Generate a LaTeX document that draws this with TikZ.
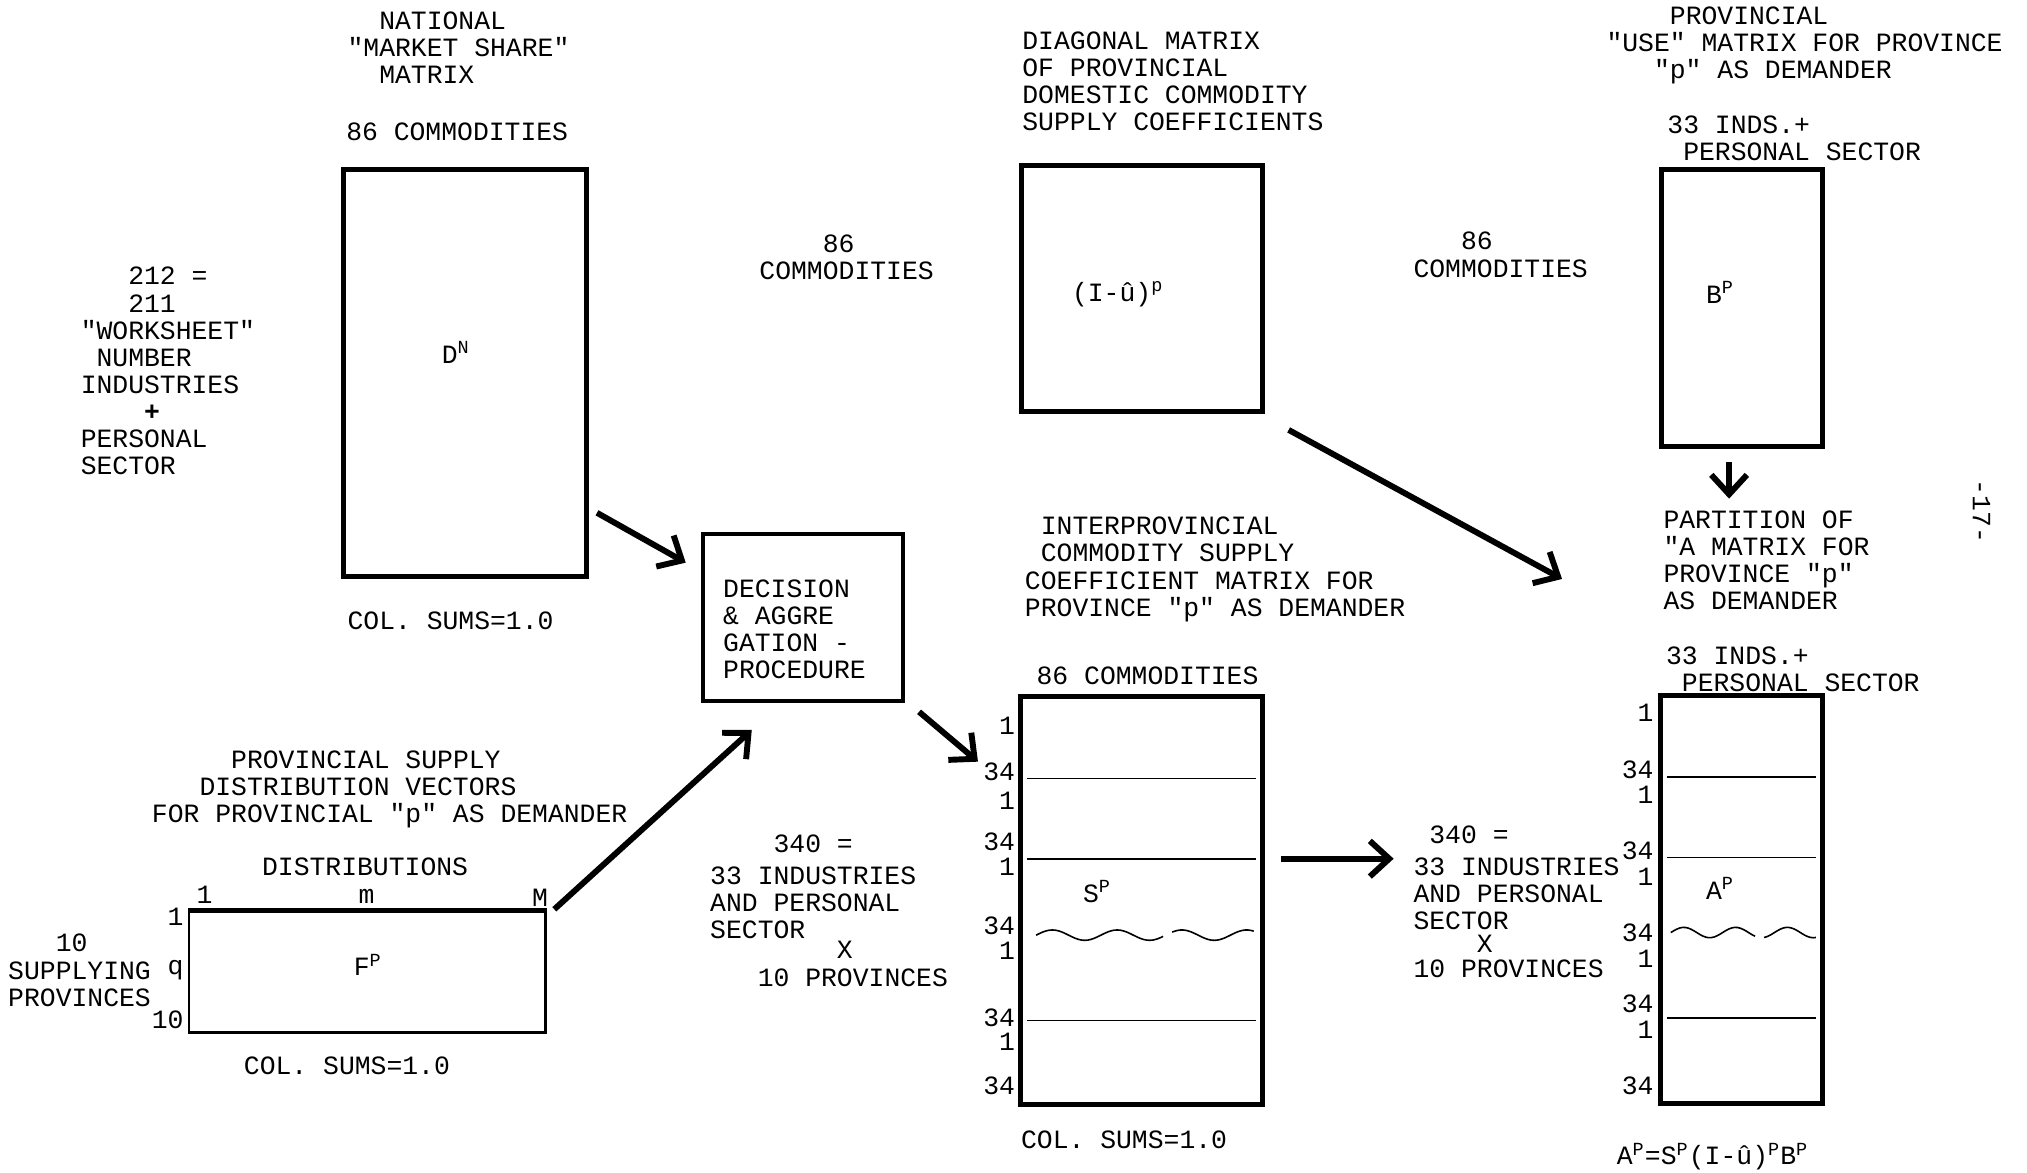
\documentclass[tikz,border=0pt]{standalone}
\usepackage{fontspec}
\setmonofont{Liberation Mono}
\usetikzlibrary{arrows.meta}

\begin{document}
\begin{tikzpicture}[x=0.2mm, y=-0.2mm,
    every node/.style={inner sep=0pt, font=\ttfamily\fontsize{11.6}{11.9}\selectfont},
    txt/.style={anchor=north west, align=left},
    word/.style={anchor=west},
    rowlab/.style={anchor=east},
    matbox/.style={draw, line width=2.2pt},
    divline/.style={line width=0.7pt},
    bigarrow/.style={line width=2.6pt, -{Straight Barb[length=3mm,width=5.5mm]}}]
  \useasboundingbox (0,0) rectangle (1565,905);

  % national market share matrix
  \node[txt] (natl) at (268,9) {\hphantom{00}NATIONAL\\"MARKET SHARE"\\\hphantom{00}MATRIX};
  \node[word] (dncols) at (267,102) {86 COMMODITIES};
  \node[matbox, minimum width=37.6mm, minimum height=62.8mm] (dn) at (359,288) {};
  \node (dnlab) at (352,272) {D\textsuperscript{N}};
  \node[word] (dnsum) at (268,479) {COL. SUMS=1.0};
  \node[txt] (dnrows) at (62,206) {\hphantom{000}212 =\\\hphantom{000}211\\"WORKSHEET"\\\hphantom{0}NUMBER\\INDUSTRIES\\\hphantom{0000}\textbf{+}\\PERSONAL\\SECTOR};

  % decision box
  \node[matbox, line width=1.8pt, minimum width=30.8mm, minimum height=25.8mm] (dec) at (620,476.5) {};
  \node[txt] (dectxt) at (558,447) {DECISION\\\& AGGRE\\GATION -\\PROCEDURE};

  % diagonal matrix
  \node[txt] (diagtxt) at (789,24) {DIAGONAL MATRIX\\OF PROVINCIAL\\DOMESTIC COMMODITY\\SUPPLY COEFFICIENTS};
  \node[matbox, minimum width=37.2mm, minimum height=38mm] (iu) at (882,223) {};
  \node (iulab) at (863,227) {(I-û)\textsuperscript{p}};
  \node[txt] (midcols) at (586,181) {\hphantom{0000}86\\COMMODITIES};
  \node[txt] (rcols) at (1091,179) {\hphantom{000}86\\COMMODITIES};

  % use matrix
  \node[txt] (usetxt) at (1240,5) {\hphantom{0000}PROVINCIAL\\"USE" MATRIX FOR PROVINCE\\\hphantom{000}"p" AS DEMANDER};
  \node[txt] (bpcols) at (1287,89) {33 INDS.+\\\hphantom{0}PERSONAL SECTOR};
  \node[matbox, minimum width=24.8mm, minimum height=42.8mm] (bp) at (1345,238) {};
  \node (bplab) at (1328,226) {B\textsuperscript{P}};
  \node[txt] (part) at (1284,394) {PARTITION OF\\"A MATRIX FOR\\PROVINCE "p"\\AS DEMANDER};
  \node[rotate=-90] (pageno) at (1530,395) {-17-};

  % interprovincial supply matrix
  \node[txt] (inttxt) at (791,399) {\hphantom{0}INTERPROVINCIAL\\\hphantom{0}COMMODITY SUPPLY\\COEFFICIENT MATRIX FOR\\PROVINCE "p" AS DEMANDER};
  \node[word] (spcols) at (800,522) {86 COMMODITIES};
  \node[matbox, minimum width=37.4mm, minimum height=63mm] (sp) at (881.5,695.5) {};
  \node (splab) at (847,688) {S\textsuperscript{P}};
  \draw[divline] (793,601) -- (970,601) (793,663) -- (970,663) (793,788) -- (970,788);
  \draw[divline] plot[domain=800:898, samples=40] (\x, {722-4*sin((\x-800)*7.2)});
  \draw[divline] plot[domain=905:968, samples=30] (\x, {722-4*sin((\x-800)*7.2)});
  \foreach \yy/\lab [count=\i] in {560/1,596/34,618/1,650/34,669/1,715/34,734/1,786/34,804/1,838/34}
    \node[rowlab] (srow\i) at (784,\yy) {\lab};
  \node[word] (spsum) at (788,880) {COL. SUMS=1.0};

  % row counts
  \node[txt] (lblk) at (548,644) {\hphantom{0000}340 =\\[2.3pt]33 INDUSTRIES\\AND PERSONAL\\SECTOR\\[-3pt]\hphantom{00000000}X\\\hphantom{000}10 PROVINCES};
  \node[txt] (rblk) at (1091,637) {\hphantom{0}340 =\\[2.3pt]33 INDUSTRIES\\AND PERSONAL\\SECTOR\\[-2pt]\hphantom{0000}X\\[-0.8pt]10 PROVINCES};

  % A matrix
  \node[txt] (apcols) at (1286,499) {33 INDS.+\\\hphantom{0}PERSONAL SECTOR};
  \node[matbox, minimum width=25mm, minimum height=63mm] (ap) at (1344.5,694.5) {};
  \node (aplab) at (1328,686) {A\textsuperscript{P}};
  \draw[divline] (1287,600) -- (1402,600) (1287,662) -- (1402,662) (1287,786) -- (1402,786);
  \draw[divline] plot[domain=1290:1355, samples=30] (\x, {720-4*sin((\x-1290)*9)});
  \draw[divline] plot[domain=1362:1402, samples=20] (\x, {720-4*sin((\x-1290)*9)});
  \foreach \yy/\lab [count=\i] in {550/1,594/34,614/1,657/34,677/1,720/34,740/1,775/34,795/1,838/34}
    \node[rowlab] (arow\i) at (1277,\yy) {\lab};
  \node[word] (aform) at (1248,893) {A\textsuperscript{P}=S\textsuperscript{P}(I-û)\textsuperscript{P}B\textsuperscript{P}};

  % supply distribution vectors
  \node[txt] (fptxt) at (117,579) {\hphantom{00000}PROVINCIAL SUPPLY\\\hphantom{000}DISTRIBUTION VECTORS\\FOR PROVINCIAL "p" AS DEMANDER};
  \node[word] (fpcols) at (202,669) {DISTRIBUTIONS};
  \node[draw, line width=1.1pt, minimum width=55mm, minimum height=18.6mm] (fp) at (283.5,750.5) {};
  \draw[line width=2pt] (fp.north west) -- (fp.north east);
  \node (fplab) at (284,745) {F\textsuperscript{P}};
  \node (fc1) at (158,691) {1};
  \node (fcm) at (283,692) {m};
  \node (fcM) at (417,693) {M};
  \node[rowlab] (fr1) at (142,708) {1};
  \node[rowlab] (frq) at (142,749) {q};
  \node[rowlab] (fr10) at (142,787) {10};
  \node[txt] (fprows) at (6,721) {\hphantom{000}10\\SUPPLYING\\PROVINCES};
  \node[word] (fpsum) at (188,823) {COL. SUMS=1.0};

  % arrows
  \coordinate (bend) at (1206,447);
  \draw[bigarrow] ([shift={(6,-51)}]dn.south east) -- ([shift={(-12,24)}]dec.north west);
  \draw[bigarrow] ([shift={(11,7)}]dec.south east) -- ([shift={(-31,52)}]sp.north west);
  \draw[bigarrow] ([shift={(6,-1)}]fp.north east) -- ([shift={(39,21)}]dec.south west);
  \draw[bigarrow] ([shift={(18,12)}]iu.south east) -- (bend);
  \draw[bigarrow] ([shift={(-10,10)}]bp.south) -- ([shift={(51,-9)}]part.north west);
  \draw[bigarrow] ([shift={(12,-32.5)}]sp.east) -- ([shift={(-15,26)}]rblk.north west);
\end{tikzpicture}
\end{document}
